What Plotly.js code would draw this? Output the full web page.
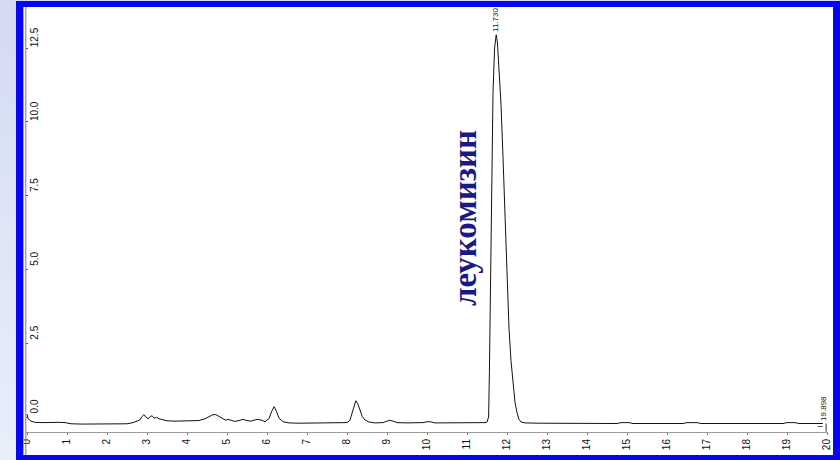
<!DOCTYPE html>
<html>
<head>
<meta charset="utf-8">
<script src="https://cdn.plot.ly/plotly-3.0.1.min.js"></script>
<style>
  html, body { margin: 0; padding: 0; }
  body { width: 840px; height: 460px; background: linear-gradient(to bottom, #d3daf2 0%, #dfe7f7 55%, #e7effb 100%); }
  #chart { width: 840px; height: 460px; }
</style>
</head>
<body>
<div id="chart"></div>
<script>
// Retention time (min) and detector response of the chromatogram
const timeMin = [
  0.00, 0.03, 0.10, 0.20, 0.40, 0.60, 0.80, 0.95, 1.10, 1.40, 1.80, 2.20, 2.50, 2.65, 2.75,
  2.82, 2.88, 2.92, 2.97, 3.03, 3.08, 3.13, 3.18, 3.24, 3.30, 3.40, 3.50, 3.70, 3.90, 4.10,
  4.30, 4.45, 4.55, 4.65, 4.72, 4.80, 4.90, 4.97, 5.03, 5.10, 5.20, 5.30, 5.40, 5.50, 5.60,
  5.75, 5.85, 5.95, 6.05, 6.12, 6.18, 6.24, 6.30, 6.40, 6.55, 6.80, 7.00, 7.40, 7.80, 8.00,
  8.07, 8.12, 8.17, 8.22, 8.27, 8.32, 8.38, 8.45, 8.55, 8.70, 8.90, 9.00, 9.07, 9.15, 9.25,
  9.50, 9.90, 10.00, 10.08, 10.20, 10.60, 11.00, 11.30, 11.45, 11.50, 11.54, 11.56, 11.58, 11.61, 11.65,
  11.69, 11.73, 11.76, 11.80, 11.85, 11.90, 11.95, 12.00, 12.05, 12.10, 12.15, 12.20, 12.25, 12.30, 12.35,
  12.45, 12.80, 13.30, 13.80, 14.30, 14.75, 14.85, 15.05, 15.15, 15.80, 16.40, 16.50, 16.75, 16.85, 17.50,
  18.20, 18.90, 19.00, 19.20, 19.30, 19.70, 19.898
];
const signal = [
  0.10, -0.06, -0.14, -0.18, -0.19, -0.18, -0.18, -0.19, -0.23, -0.24, -0.24, -0.24, -0.23, -0.19, -0.15,
  -0.10, 0.02, 0.08, 0.00, -0.06, 0.02, 0.04, -0.04, -0.01, -0.06, -0.10, -0.13, -0.14, -0.14, -0.14,
  -0.12, -0.06, 0.02, 0.08, 0.08, 0.02, -0.07, -0.11, -0.08, -0.10, -0.15, -0.12, -0.08, -0.12, -0.14,
  -0.08, -0.10, -0.16, -0.05, 0.20, 0.35, 0.18, -0.04, -0.16, -0.20, -0.21, -0.21, -0.20, -0.20, -0.19,
  -0.12, 0.10, 0.40, 0.55, 0.45, 0.22, 0.02, -0.10, -0.17, -0.20, -0.19, -0.14, -0.11, -0.14, -0.19,
  -0.20, -0.19, -0.16, -0.16, -0.20, -0.20, -0.21, -0.20, -0.19, -0.17, 0.00, 1.50, 4.00, 7.50, 11.00,
  12.50, 12.95, 12.70, 11.90, 10.60, 8.80, 6.80, 4.70, 3.00, 1.90, 1.10, 0.50, 0.15, -0.08, -0.17,
  -0.20, -0.21, -0.21, -0.21, -0.22, -0.22, -0.19, -0.19, -0.22, -0.22, -0.22, -0.19, -0.19, -0.22, -0.22,
  -0.22, -0.22, -0.19, -0.19, -0.22, -0.22, -0.22
];

// Axis ticks
const xTickVals = [0, 1, 2, 3, 4, 5, 6, 7, 8, 9, 10, 11, 12, 13, 14, 15, 16, 17, 18, 19, 20];
const yTickVals = [0, 2.5, 5, 7.5, 10, 12.5];
const yTickText = ['0.0', '2.5', '5.0', '7.5', '10.0', '12.5'];

// Integrated peak events
const peakTimes = [11.730, 19.898];
const peakLabels = ['11.730', '19.898'];
const compoundName = 'леукомизин';

const narrow = '"Liberation Sans Narrow", "Liberation Sans", Arial, sans-serif';

function signalAt(t) {
  let best = 0;
  for (let i = 0; i < timeMin.length; i++) {
    if (Math.abs(timeMin[i] - t) < Math.abs(timeMin[best] - t)) best = i;
  }
  return signal[best];
}

const trace = {
  x: timeMin,
  y: signal,
  type: 'scatter',
  mode: 'lines',
  line: { color: '#111111', width: 1 },
  hoverinfo: 'skip'
};

const annotations = peakTimes.map((t, i) => ({
  x: t, y: signalAt(t), xref: 'x', yref: 'y',
  text: peakLabels[i], showarrow: false, textangle: -90,
  xanchor: 'center', yanchor: 'bottom', yshift: 1,
  font: { family: narrow, size: 8, color: '#222222' }
}));
annotations.push({
  x: 10.95, y: 6.74, xref: 'x', yref: 'y',
  text: '<b>' + compoundName + '</b>', showarrow: false, textangle: -90,
  xanchor: 'center', yanchor: 'middle',
  font: { family: '"Liberation Serif", "Times New Roman", serif', size: 33, color: '#1a1a86' }
});

const endTime = peakTimes[1];
const endLevel = signalAt(endTime);

const shapes = [
  // blue frame and white panel
  { type: 'rect', xref: 'paper', yref: 'paper', x0: -0.01247, x1: 1.01496, y0: -0.0659, y1: 1.0141,
    fillcolor: '#0606f2', line: { width: 0 }, layer: 'below' },
  { type: 'rect', xref: 'paper', yref: 'paper', x0: -0.00374, x1: 1.00623, y0: -0.0541, y1: 1.0,
    fillcolor: '#ffffff', line: { width: 0 }, layer: 'below' },
  // double rule along the signal axis
  { type: 'line', xref: 'paper', yref: 'paper', x0: -0.0031, x1: -0.0031, y0: -0.0541, y1: 1.0,
    line: { color: '#a8a8a8', width: 1 } },
  { type: 'line', xref: 'paper', yref: 'paper', x0: -0.0002, x1: -0.0002, y0: -0.0541, y1: 1.0,
    line: { color: '#7c7c7c', width: 1 } },
  // end-of-integration bracket
  { type: 'line', xref: 'x', yref: 'y', x0: endTime + 0.08, x1: endTime + 0.08, y0: endLevel, y1: -0.5,
    line: { color: '#333333', width: 1 } },
  { type: 'line', xref: 'x', yref: 'y', x0: endTime - 0.13, x1: endTime, y0: endLevel - 0.1, y1: endLevel - 0.1,
    line: { color: '#555555', width: 1 } }
];

const layout = {
  width: 840, height: 460,
  margin: { l: 26, r: 12, t: 7, b: 28, pad: 0 },
  paper_bgcolor: 'rgba(0,0,0,0)',
  plot_bgcolor: 'rgba(0,0,0,0)',
  showlegend: false,
  xaxis: {
    range: [-0.025, 20.025],
    tickvals: xTickVals,
    ticktext: xTickVals.map(String),
    tickangle: -90,
    ticks: 'outside', ticklen: 2, tickcolor: '#777777', tickwidth: 1,
    showline: true, linecolor: '#9a9a9a', linewidth: 1,
    showgrid: false, zeroline: false,
    tickfont: { family: narrow, size: 10, color: '#111111' },
    fixedrange: true
  },
  yaxis: {
    range: [-0.508, 13.89],
    tickvals: yTickVals,
    ticktext: yTickText,
    tickangle: -90,
    ticklabelposition: 'outside',
    ticklabelshift: -9,
    ticklabelstandoff: -15,
    ticks: 'inside', ticklen: 2, tickcolor: '#555555', tickwidth: 1,
    showline: false, showgrid: false, zeroline: false,
    tickfont: { family: narrow, size: 10, color: '#111111' },
    fixedrange: true
  },
  shapes: shapes,
  annotations: annotations
};

Plotly.newPlot('chart', [trace], layout, { displayModeBar: false, staticPlot: true });
</script>
</body>
</html>
